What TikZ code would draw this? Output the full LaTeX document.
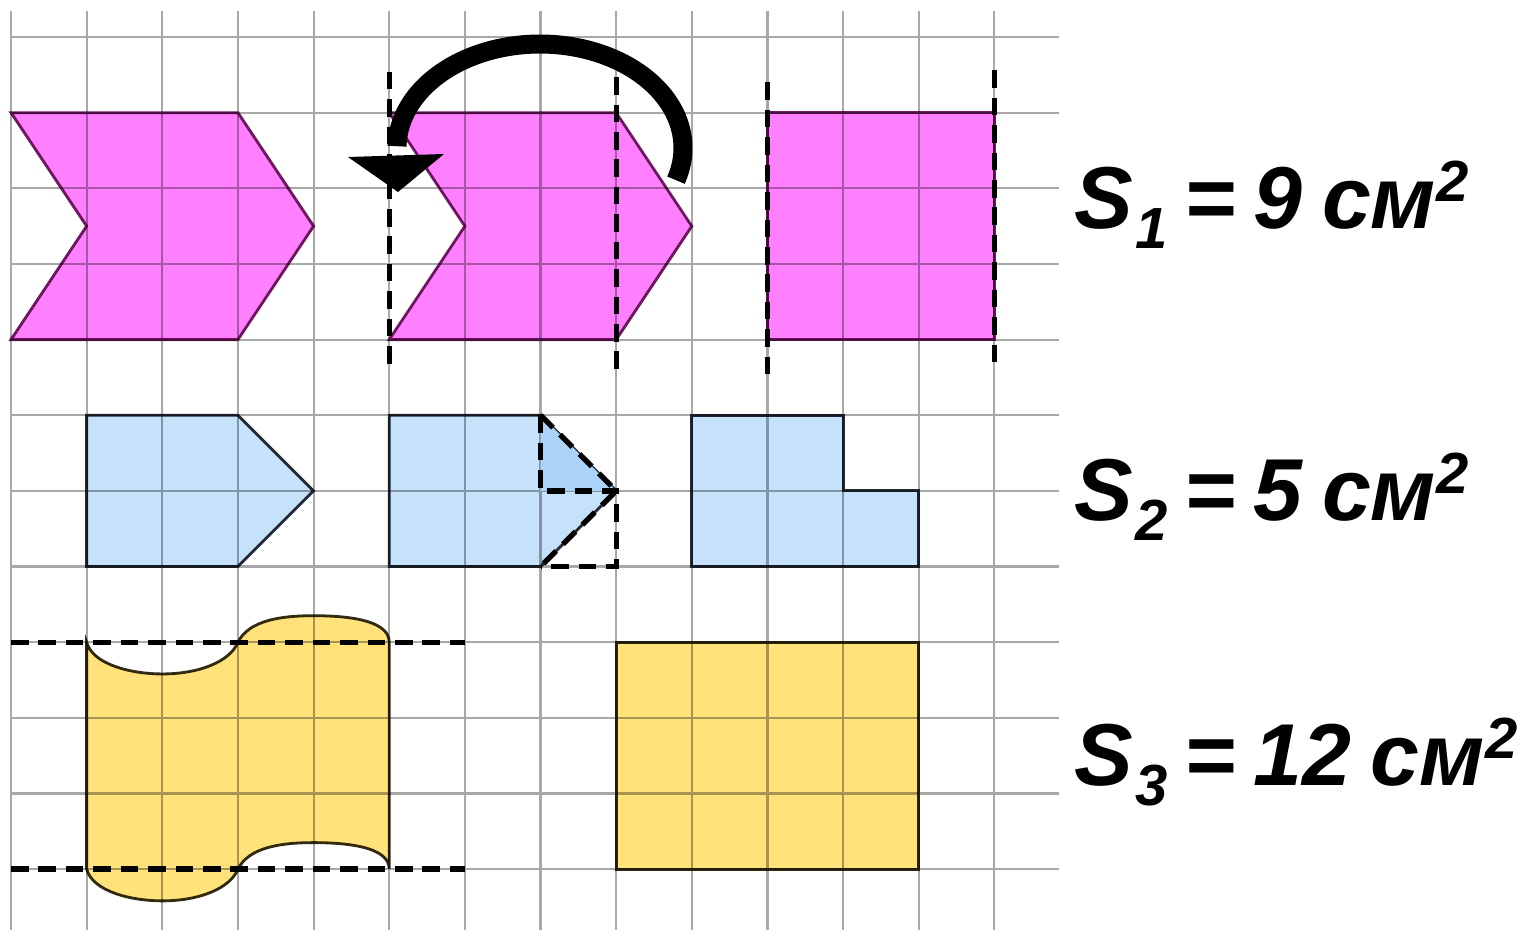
\documentclass[tikz,border=0pt]{standalone}
\usepackage{fontspec}
\setmainfont{Liberation Sans}
\usetikzlibrary{calc}
\definecolor{gridcol}{RGB}{168,168,168}
\definecolor{pinkfill}{RGB}{255,128,255}
\definecolor{pinkline}{RGB}{110,30,95}
\definecolor{bluefill}{RGB}{198,226,250}
\definecolor{bluedark}{RGB}{170,211,247}
\definecolor{blueline}{RGB}{40,45,55}
\definecolor{yelfill}{RGB}{255,226,122}
\definecolor{yelline}{RGB}{50,45,20}
\newcommand\areaeq[2]{S\kern0.02em\raisebox{-5.7pt}{\fontsize{16.5}{16}\selectfont #1}\hspace{0.2em}=\hspace{0.2em}#2\hspace{0.22em}см\kern0.01em\raisebox{7.6pt}{\fontsize{16.5}{16}\selectfont 2}}
\tikzset{
  gridline/.style={draw=gridcol, line width=0.6pt},
  pinkshape/.style={fill=pinkfill, draw=pinkline, line width=0.8pt, blend mode=multiply},
  blueshape/.style={fill=bluefill, draw=blueline, line width=0.8pt, blend mode=multiply},
  yelshape/.style={fill=yelfill, draw=yelline, line width=0.8pt, blend mode=multiply},
  cutline/.style={draw=black, line width=1.5pt, dash pattern=on 5pt off 2.8pt},
  eqtext/.style={anchor=base west, inner sep=0pt, font=\fontsize{25}{30}\selectfont\bfseries\itshape}
}
\begin{document}
\begin{tikzpicture}[x=0.01cm,y=-0.01cm]
\useasboundingbox (0,0) rectangle (1527,930);
\fill[white] (0,0) rectangle (1527,930);
\begin{scope}[shift={(0.11cm,-0.37cm)}, x=0.756cm, y=-0.756cm]
  % grid
  \foreach \i in {0,...,13} \draw[gridline] (\i,-0.344) -- (\i,11.81);
  \foreach \j in {0,...,11} \draw[gridline] (0,\j) -- (13.85,\j);
  % pink row
  \path[pinkshape] (0,1) -- (3,1) -- (4,2.5) -- (3,4) -- (0,4) -- (1,2.5) -- cycle;
  \path[pinkshape] (5,1) -- (8,1) -- (9,2.5) -- (8,4) -- (5,4) -- (6,2.5) -- cycle;
  \path[pinkshape] (10,1) rectangle (13,4);
  \draw[cutline] (5,0.46) -- (5,4.40);
  \draw[cutline] (8,0.53) -- (8,4.47);
  \draw[cutline] (10,0.60) -- (10,4.50);
  \draw[cutline] (13,0.44) -- (13,4.34);
  % blue row
  \path[blueshape] (1,5) -- (3,5) -- (4,6) -- (3,7) -- (1,7) -- cycle;
  \path[blueshape] (5,5) -- (7,5) -- (8,6) -- (7,7) -- (5,7) -- cycle;
  \path[fill=bluedark] (7,5) -- (8,6) -- (7,6) -- cycle;
  \draw[cutline] (7,5) -- (8,6) -- (7,7);
  \draw[cutline] (7,5) -- (7,6) -- (8,6) -- (8,7) -- (7,7);
  \path[blueshape] (9,5) -- (11,5) -- (11,6) -- (12,6) -- (12,7) -- (9,7) -- cycle;
  % yellow row
  \path[yelshape] (1,8) .. controls (1.08,8.3) and (1.6,8.42) .. (2,8.42)
      .. controls (2.5,8.42) and (2.9,8.25) .. (3,8)
      .. controls (3.15,7.7) and (3.6,7.65) .. (4,7.65)
      .. controls (4.6,7.65) and (5,7.75) .. (5,8)
      -- (5,11)
      .. controls (5,10.75) and (4.6,10.65) .. (4,10.65)
      .. controls (3.6,10.65) and (3.15,10.7) .. (3,11)
      .. controls (2.9,11.25) and (2.5,11.42) .. (2,11.42)
      .. controls (1.6,11.42) and (1.08,11.3) .. (1,11) -- cycle;
  \draw[cutline] (0,8) -- (6,8);
  \draw[cutline] (0,11) -- (6,11);
  \path[yelshape] (8,8) rectangle (12,11);
\end{scope}
% turning arrow
\draw[line width=0.19cm, line cap=butt, black]
  plot[domain=-18:179, samples=80, smooth] ({540+143*cos(\x)}, {148-104*sin(\x)});
\fill[black] (348,157) -- (444,154) -- (398,192) -- cycle;
% area labels
\node[eqtext] (s1) at (1074,228) {\areaeq{1}{9}};
\node[eqtext] (s2) at (1074,520) {\areaeq{2}{5}};
\node[eqtext] (s3) at (1074,785) {\areaeq{3}{12}};
\end{tikzpicture}
\end{document}
